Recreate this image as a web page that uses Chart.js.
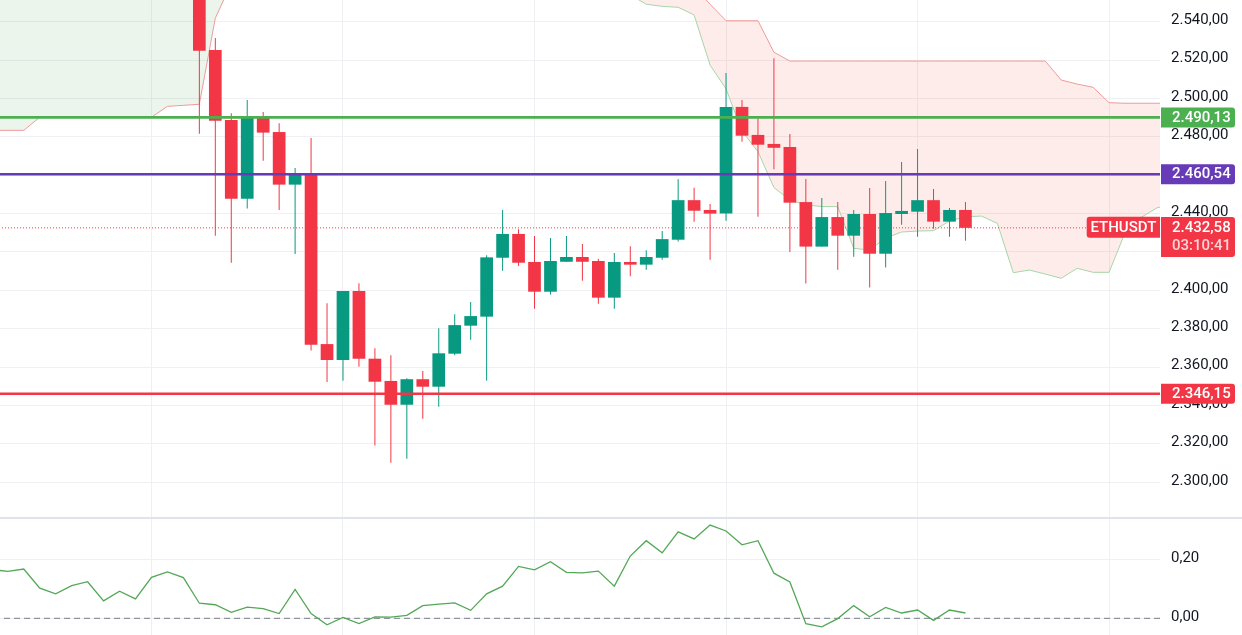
<!DOCTYPE html>
<html><head><meta charset="utf-8">
<script src="https://cdn.jsdelivr.net/npm/chart.js@4.4.1/dist/chart.umd.min.js"></script>
<style>
html,body{margin:0;padding:0;background:#fff;width:1242px;height:635px;overflow:hidden}
#main{position:absolute;left:0;top:0;width:1242px;height:517px}
#sep{position:absolute;left:0;top:517px;width:1242px;height:2px;background:#E0E3EB}
#osc{position:absolute;left:0;top:519px;width:1242px;height:116px}
</style></head><body>
<div id="main"><canvas id="c1"></canvas></div>
<div id="sep"></div>
<div id="osc"><canvas id="c2"></canvas></div>
<script>
// ---- DATA (hourly ETHUSDT candles, index 0 = first visible candle) ----
const candleIdx = [0,1,2,3,4,5,6,7,8,9,10,11,12,13,14,15,16,17,18,19,20,21,22,23,24,25,26,27,28,29,30,31,32,33,34,35,36,37,38,39,40,41,42,43,44,45,46,47,48];
const opens  = [2560.0,2525.3,2488.8,2447.8,2490.2,2482.5,2455.1,2460.6,2372.0,2363.7,2399.7,2364.4,2352.8,2340.4,2353.7,2349.8,2367.0,2381.6,2386.3,2417.0,2429.4,2414.8,2399.3,2414.9,2417.4,2415.3,2396.2,2414.8,2413.4,2417.0,2426.4,2447.0,2441.9,2440.0,2495.6,2481.0,2476.3,2474.7,2446.0,2422.8,2438.2,2428.5,2439.8,2419.1,2439.8,2441.0,2447.0,2435.8,2441.9];
const highs  = [2568.0,2531.5,2492.3,2499.2,2493.0,2487.1,2463.8,2479.4,2393.3,2399.7,2403.7,2369.8,2366.2,2354.2,2358.0,2380.2,2387.5,2393.9,2418.3,2441.9,2431.8,2428.3,2427.3,2428.3,2424.2,2416.5,2419.5,2423.0,2420.9,2430.9,2457.9,2453.5,2445.0,2513.3,2499.2,2489.5,2521.0,2481.5,2458.0,2448.1,2446.0,2441.9,2453.3,2457.0,2466.9,2473.7,2452.8,2442.9,2446.0];
const lows   = [2481.6,2428.5,2414.4,2442.6,2467.6,2441.9,2418.9,2368.6,2352.2,2352.9,2360.2,2319.1,2310.2,2312.3,2333.1,2339.4,2366.2,2374.3,2352.9,2410.2,2412.7,2390.4,2397.8,2414.9,2405.0,2393.0,2390.4,2407.3,2410.8,2416.0,2425.4,2435.8,2416.0,2436.3,2477.5,2438.4,2463.1,2420.0,2403.6,2422.8,2410.8,2417.5,2401.5,2411.9,2434.2,2428.0,2432.1,2428.0,2425.9];
const closes = [2524.9,2488.4,2447.8,2490.2,2482.2,2455.1,2460.6,2371.7,2363.7,2399.7,2364.4,2352.4,2340.4,2353.7,2349.8,2367.2,2381.9,2386.6,2417.2,2429.4,2414.4,2399.3,2415.3,2417.4,2414.9,2396.2,2414.8,2413.4,2417.4,2426.7,2447.0,2441.5,2440.0,2495.6,2480.6,2475.9,2474.3,2445.7,2422.8,2438.2,2428.5,2439.8,2419.1,2440.3,2441.4,2447.0,2435.8,2441.9,2432.58];

// Ichimoku leading spans (shifted forward)
const cloudIdx = [-13,-12,-11,-10,-9,-8,-7,-6,-5,-4,-3,-2,-1,0,1,2,3,4,5,6,7,8,9,10,11,12,13,14,15,16,17,18,19,20,21,22,23,24,25,26,27,28,29,30,31,32,33,34,35,36,37,38,39,40,41,42,43,44,45,46,47,48,49,50,51,52,53,54,55,56,57,58,59,60,61];
const spanA = [2600,2600,2600,2600,2600,2600,2600,2600,2600,2600,2600,2600,2600,2600,2600,2600,2598,2596,2594,2592,2590,2587,2583,2580,2578,2576,2575,2575,2575,2575,2575,2575,2575,2575,2575,2575,2575,2575,2570,2562,2554,2549.1,2548,2547.5,2543.5,2517.4,2505,2483,2472.3,2453.6,2447.1,2444.5,2443.7,2443.6,2421.9,2421.0,2427.3,2430.4,2430.9,2431.1,2436.1,2438.4,2438.7,2434.9,2409.2,2410.6,2408.5,2406.3,2411.5,2409.4,2409.4,2430,2438,2443,2445];
const spanB = [2483.4,2483.4,2483.4,2490.2,2490.2,2490.2,2490.2,2490.2,2490.2,2490.2,2490.2,2495.9,2496.4,2497.0,2541.8,2560,2575,2585,2585,2585,2585,2585,2585,2585,2585,2585,2585,2585,2585,2585,2585,2585,2585,2585,2585,2585,2585,2585,2585,2585,2583,2578,2572,2566,2558,2549.1,2540.5,2540.5,2540.5,2524.1,2519.5,2519.5,2519.5,2519.5,2519.5,2519.5,2519.5,2519.5,2519.5,2519.5,2519.5,2519.5,2519.5,2519.5,2519.5,2519.5,2519.5,2509.6,2507.5,2505.8,2497.8,2497.5,2497.5,2497.5,2497.5];

// Lower oscillator pane
const oscIdx = [-13,-12,-11,-10,-9,-8,-7,-6,-5,-4,-3,-2,-1,0,1,2,3,4,5,6,7,8,9,10,11,12,13,14,15,16,17,18,19,20,21,22,23,24,25,26,27,28,29,30,31,32,33,34,35,36,37,38,39,40,41,42,43,44,45,46,47,48];
const oscValues = [0.165,0.159,0.167,0.102,0.083,0.111,0.124,0.059,0.092,0.066,0.139,0.157,0.138,0.051,0.046,0.020,0.038,0.033,0.016,0.098,0.016,-0.022,0.003,-0.018,0.005,0.004,0.010,0.043,0.048,0.052,0.027,0.083,0.109,0.176,0.164,0.192,0.156,0.154,0.160,0.109,0.211,0.263,0.222,0.293,0.269,0.316,0.296,0.249,0.263,0.153,0.123,-0.018,-0.029,-0.001,0.043,0.005,0.037,0.018,0.028,-0.007,0.028,0.018];

const priceTicks = [2300,2320,2340,2360,2380,2400,2420,2440,2460,2480,2500,2520,2540];
const oscTicks = [0,0.2];
const timeGridIdx = [-3,9,21,33,45,57];

const levelValues = [2490.13, 2460.54, 2346.15];
const levelColors = ['#4CAF50', '#673AB7', '#F23645'];
const lastPrice = 2432.58;
const countdown = '03:10:41';
const symbol = 'ETHUSDT';

// ---- helpers ----
function fmt(v){
  const s = Math.abs(v).toFixed(2).split('.');
  const a = s[0].replace(/\B(?=(\d{3})+(?!\d))/g,'.');
  return (v<0?'-':'') + a + ',' + s[1];
}
const UP='#089981', DOWN='#F23645';
const GRID='#EEF0F3';
const FONT='Roboto';
Chart.defaults.font.family = FONT;
Chart.defaults.animation = false;

const candleColors = candleIdx.map((x,i)=> closes[i] >= opens[i] ? UP : DOWN);
const bodies = candleIdx.map((x,i)=>({x, y:[Math.min(opens[i],closes[i]), Math.max(opens[i],closes[i])]}));
const wicks  = candleIdx.map((x,i)=>({x, y:[lows[i], highs[i]]}));
const XMIN = -12.49, XMAX = 60.19;

function lineData(v){ return [{x:XMIN-1,y:v},{x:XMAX+1,y:v}]; }

const datasets = [
  { type:'line', label:'Span A', data: cloudIdx.map((x,i)=>({x,y:spanA[i]})), borderColor:'#A5D6A7', borderWidth:1, pointRadius:0, tension:0,
    fill:{ target:1, above:'rgba(67,160,71,0.10)', below:'rgba(244,67,54,0.10)' }, order:10 },
  { type:'line', label:'Span B', data: cloudIdx.map((x,i)=>({x,y:spanB[i]})), borderColor:'#EF9A9A', borderWidth:1, pointRadius:0, tension:0, fill:false, order:9 },
  { type:'line', label:'last', data: lineData(lastPrice), borderColor:'#F23645', borderWidth:1, borderDash:[1,2], pointRadius:0, fill:false, order:8 },
  { type:'bar', label:'wicks', data: wicks, backgroundColor: candleColors, barThickness:1, grouped:false, inflateAmount:0, borderWidth:0, order:4 },
  { type:'bar', label:'bodies', data: bodies, backgroundColor: candleColors, barThickness:12.7, grouped:false, inflateAmount:0, borderWidth:0, minBarLength:1, order:3 },
];
levelValues.forEach((v,k)=>{
  datasets.push({ type:'line', label:'lvl'+k, data: lineData(v), borderColor: levelColors[k], borderWidth:2.6, pointRadius:0, fill:false, order:1 });
});

function roundBox(ctx,x,y,w,h,r,color){
  ctx.beginPath();
  ctx.roundRect(x,y,w,h,r);
  ctx.fillStyle=color; ctx.fill();
}

const labelPlugin = {
  id:'priceLabels',
  afterDraw(chart){
    const ctx = chart.ctx, ys = chart.scales.y, area = chart.chartArea;
    ctx.save();
    ctx.font = '500 15px ' + FONT;
    ctx.textBaseline = 'middle';
    const bx = area.right + 1, bw = 74;
    levelValues.forEach((v,k)=>{
      const py = ys.getPixelForValue(v);
      roundBox(ctx,bx,py-10,bw,20,[0,3,3,0],levelColors[k]);
      ctx.fillStyle='#FFFFFF'; ctx.textAlign='left';
      ctx.fillText(fmt(v), bx+11, py+0.5);
    });
    const py = ys.getPixelForValue(lastPrice);
    roundBox(ctx,bx,py-10.8,bw,40,[0,3,3,0],'#F23645');
    ctx.fillStyle='#FFFFFF'; ctx.textAlign='left';
    ctx.fillText(fmt(lastPrice), bx+11, py+0.3);
    ctx.fillStyle='rgba(255,255,255,0.78)';
    ctx.fillText(countdown, bx+11, py+18.8);
    roundBox(ctx,area.right-73.3,py-11.1,73.3,21,[3,0,0,3],'#F23645');
    ctx.fillStyle='#FFFFFF'; ctx.textAlign='center';
    ctx.fillText(symbol, area.right-36.6, py+0.2);
    ctx.restore();
  }
};

function xScale(){
  return { type:'linear', min:XMIN, max:XMAX, offset:false, display:true,
    afterBuildTicks:s=>{ s.ticks = timeGridIdx.map(v=>({value:v})); },
    afterFit:s=>{ s.height=0; s.paddingLeft=0; s.paddingRight=0; },
    ticks:{display:false}, grid:{color:GRID, drawTicks:false, offset:false, lineWidth:1}, border:{display:false} };
}

new Chart(document.getElementById('c1'), {
  type:'bar',
  data:{ datasets },
  options:{
    responsive:true, maintainAspectRatio:false, events:[],
    layout:{padding:0},
    plugins:{ legend:{display:false}, tooltip:{enabled:false} },
    scales:{
      x: xScale(),
      y: { type:'linear', position:'right', min:2281.9, max:2551.31,
        afterBuildTicks:s=>{ s.ticks = priceTicks.map(v=>({value:v})); },
        afterFit:s=>{ s.width=82; s.paddingTop=0; s.paddingBottom=0; },
        grid:{color:GRID, drawTicks:false, lineWidth:1}, border:{display:false},
        ticks:{ padding:11, labelOffset:-1.5, color:'#131722', font:{size:15, family:FONT}, callback:v=>fmt(v), autoSkip:false } }
    }
  },
  plugins:[labelPlugin]
});

new Chart(document.getElementById('c2'), {
  type:'line',
  data:{ datasets:[
    { label:'osc', data: oscIdx.map((x,i)=>({x,y:oscValues[i]})), borderColor:'#53A857', borderWidth:1.3, pointRadius:0, tension:0, fill:false, order:1 },
    { label:'zero', data: lineData(0), borderColor:'#787B86', borderWidth:1, borderDash:[6,4], pointRadius:0, fill:false, order:2 }
  ]},
  options:{
    responsive:true, maintainAspectRatio:false, events:[],
    layout:{padding:0},
    plugins:{ legend:{display:false}, tooltip:{enabled:false} },
    scales:{
      x: xScale(),
      y: { type:'linear', position:'right', min:-0.0566, max:0.3366,
        afterBuildTicks:s=>{ s.ticks = oscTicks.map(v=>({value:v})); },
        afterFit:s=>{ s.width=82; s.paddingTop=0; s.paddingBottom=0; },
        grid:{color:GRID, drawTicks:false, lineWidth:1}, border:{display:false},
        ticks:{ padding:11, labelOffset:-1.5, color:'#131722', font:{size:15, family:FONT}, callback:v=>fmt(v), autoSkip:false } }
    }
  }
});
</script>
</body></html>
